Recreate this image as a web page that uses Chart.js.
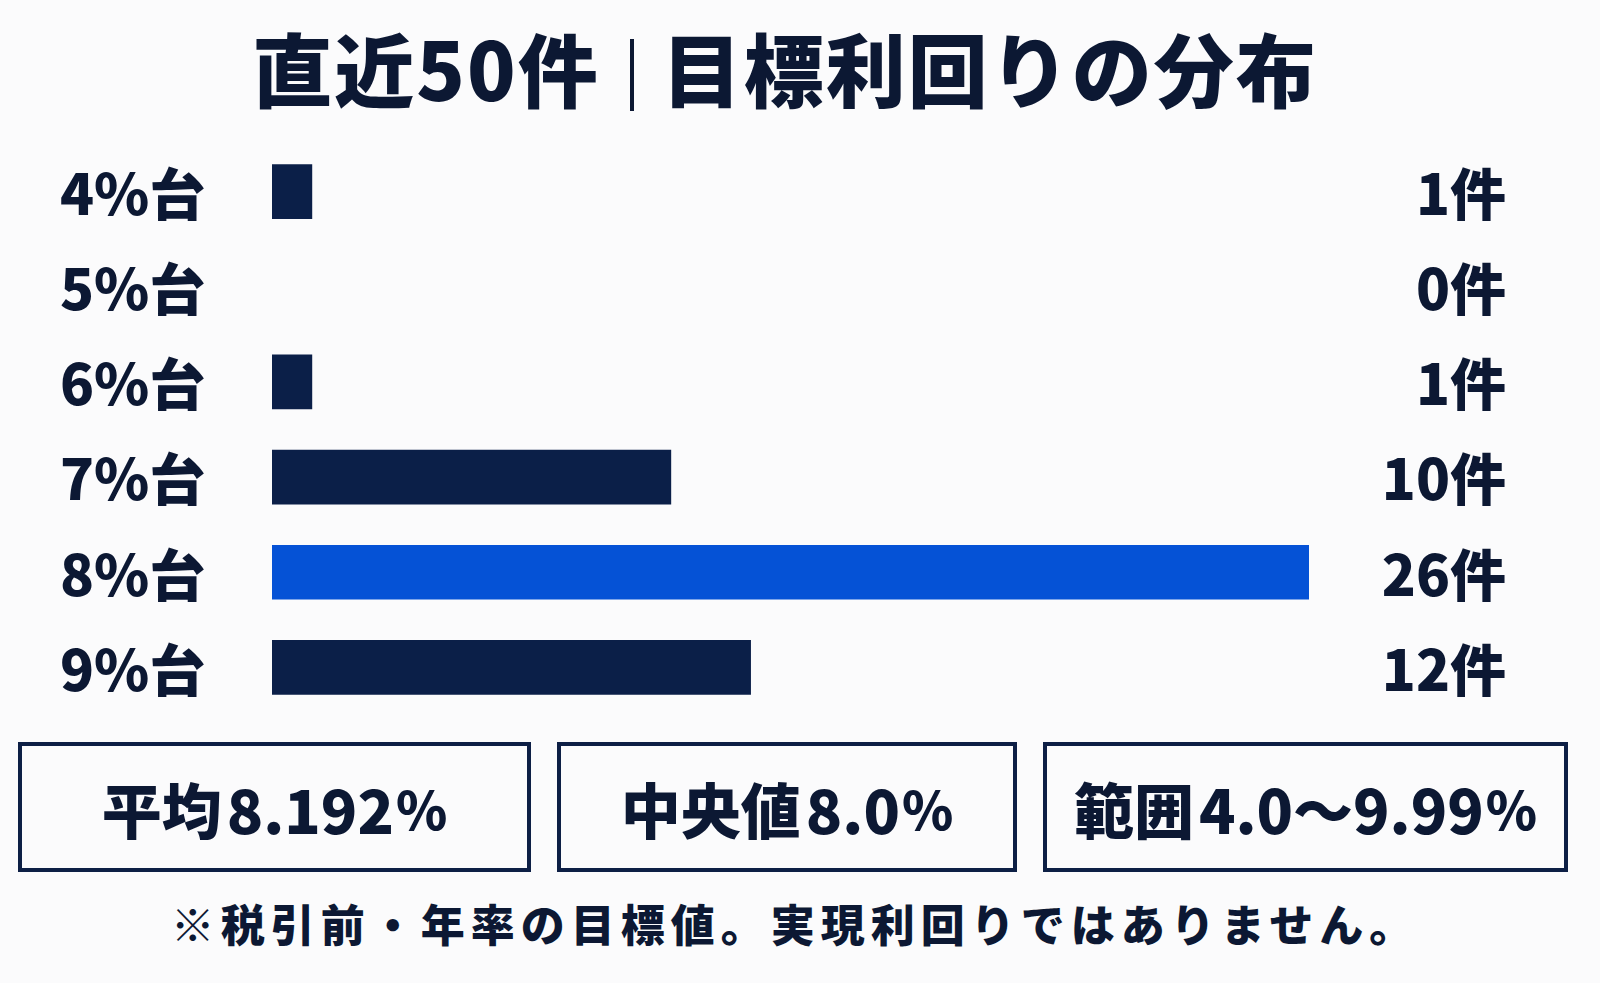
<!DOCTYPE html>
<html><head><meta charset="utf-8">
<script src="https://cdn.jsdelivr.net/npm/chart.js@4"></script>
<style>
html,body{margin:0;padding:0;background:#fbfbfc;width:1600px;height:983px;overflow:hidden;font-family:"Noto Sans CJK JP","Noto Sans",sans-serif;color:#0c1833;}
#title{position:absolute;left:0;top:18px;width:1570px;text-align:center;font-size:80px;font-weight:900;line-height:96px;letter-spacing:2px;white-space:nowrap;}
#title .div{display:inline-block;width:4px;height:72px;background:#0c1833;margin:0 28px 0 30px;vertical-align:-10px;}
#chartWrap{position:absolute;left:0;top:144px;width:1600px;height:571px;}
.box{position:absolute;top:742px;height:122px;border:4px solid #0d1f45;box-sizing:content-box;display:flex;align-items:center;justify-content:center;font-size:60px;font-weight:900;white-space:nowrap;}
.box .pct{font-size:52px;margin-left:2px;}
.box .num{margin-left:5px;}
#note{position:absolute;left:0;top:891px;width:1584px;padding-left:6px;box-sizing:border-box;text-align:center;font-size:44px;font-weight:900;letter-spacing:6px;white-space:nowrap;}
</style></head>
<body>
<div id="title">直近50件<span class="div"></span>目標利回りの分布</div>
<div id="chartWrap"><canvas id="c" width="1600" height="571"></canvas></div>
<div class="box" style="left:18px;width:505px;">平均<span class="num">8.192</span><span class="pct">%</span></div>
<div class="box" style="left:557px;width:452px;">中央値<span class="num">8.0</span><span class="pct">%</span></div>
<div class="box" style="left:1043px;width:517px;">範囲<span class="num">4.0〜9.99</span><span class="pct">%</span></div>
<div id="note">※税引前・年率の目標値。実現利回りではありません。</div>
<script>
const categories = ["4%台","5%台","6%台","7%台","8%台","9%台"];
const counts = [1, 0, 1, 10, 26, 12];
const countLabels = ["1件","0件","1件","10件","26件","12件"];
const highlightIndex = 4;

const navy = "#0b1f48", blue = "#0552d6", textColor = "#0c1833";
const FONT = '"Noto Sans CJK JP","Noto Sans",sans-serif';

const labelPlugin = {
  id: 'rowLabels',
  afterDatasetsDraw(chart) {
    const ctx = chart.ctx;
    const yScale = chart.scales.y;
    ctx.save();
    ctx.font = '900 56px ' + FONT;
    ctx.fillStyle = textColor;
    ctx.textBaseline = 'middle';
    ctx.textAlign = 'left';
    categories.forEach((lab, i) => {
      ctx.fillText(lab, 60, yScale.getPixelForValue(i) + 2);
    });
    ctx.textAlign = 'right';
    countLabels.forEach((lab, i) => {
      ctx.fillText(lab, 1506, yScale.getPixelForValue(i) + 2);
    });
    ctx.restore();
  }
};

new Chart(document.getElementById('c'), {
  type: 'bar',
  data: {
    labels: categories,
    datasets: [{
      data: counts,
      backgroundColor: counts.map((v, i) => v === 0 ? 'rgba(0,0,0,0)' : (i === highlightIndex ? blue : navy)),
      barThickness: 54,
      borderWidth: 0
    }]
  },
  options: {
    indexAxis: 'y',
    responsive: false,
    animation: false,
    devicePixelRatio: 1,
    layout: { padding: { left: 272, right: 291, top: 0, bottom: 0 } },
    plugins: { legend: { display: false }, tooltip: { enabled: false } },
    scales: {
      x: { display: false, min: 0, max: 26 },
      y: { display: false }
    }
  },
  plugins: [labelPlugin]
});
</script>
</body></html>
